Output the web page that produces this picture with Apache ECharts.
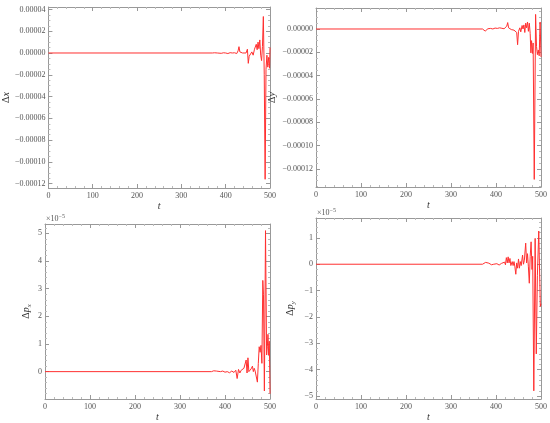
<!DOCTYPE html>
<html>
<head>
<meta charset="utf-8">
<script src="https://cdn.jsdelivr.net/npm/echarts@6/dist/echarts.min.js"></script>
<style>
  html, body { margin: 0; padding: 0; background: #fff; }
  #chart { width: 550px; height: 423px; }
</style>
</head>
<body>
<div id="chart"></div>
<script>
// values of the y series are in units of 1e-5
const dxT = [0, 370, 375, 378, 381, 385, 390, 395, 400, 405, 410, 415, 420, 425, 428, 430, 432, 435, 438, 442, 446, 449, 451, 453, 456, 459, 462, 465, 467, 469, 471, 473, 475, 477, 479, 481, 483, 485, 487, 489, 491, 493, 495, 497, 499, 500];
const dxV = [0, 0, 0.02, 0.12, 0.0, 0.03, -0.03, 0.02, 0.0, -0.05, 0.03, 0.0, 0.02, -0.05, 0.2, 0.58, 0.1, 0.05, 0.0, 0.08, 0.0, 0.35, -0.95, -0.3, -0.4, 0.1, -0.2, 0.35, 0.2, 0.8, 0.3, 1.0, 0.4, 1.2, -0.2, -0.7, 0.6, 3.35, -2, -11.6, -1.5, -0.2, -1.3, -0.4, -1.4, 0.5];

const dyT = [0, 370, 374, 376, 378, 382, 388, 393, 398, 403, 408, 413, 418, 421, 424, 426, 428, 431, 434, 437, 440, 443, 446, 448, 450, 453, 455, 458, 460, 462, 464, 466, 468, 470, 472, 474, 476, 477.5, 479, 481, 482.5, 485, 488, 490, 492, 494, 496, 498, 500];
const dyV = [0, 0, -0.05, -0.18, -0.05, 0.02, 0.05, 0.0, 0.08, 0.05, 0.1, 0.06, 0.02, 0.1, 0.25, 0.55, 0.1, 0.15, -0.05, 0.05, -0.1, 0.0, -0.3, -1.35, -0.2, 0.1, -0.25, 0.3, 0.0, 0.35, -0.3, 0.5, 0.1, 0.6, -0.2, 0.5, -0.4, -2.05, -1.0, -2.1, -1.2, -12.9, 1.25, -1.5, -2.2, -1.8, -2.3, 0.6, -2.4];

const dpxT = [0, 370, 375, 378, 381, 385, 390, 395, 400, 405, 410, 415, 420, 424, 427, 430, 433, 436, 439, 442, 445, 447, 449, 451, 453, 455, 458, 461, 463, 465, 467, 469, 472, 474, 476, 478, 480, 482, 484, 485.5, 487.5, 490, 492.5, 494, 495.5, 497, 498.5, 500];
const dpxV = [0, 0, 0.03, 0.06, 0.02, 0.04, 0.0, 0.02, -0.02, 0.0, -0.04, 0.02, -0.03, 0.05, -0.25, 0.08, -0.05, 0.05, 0.0, 0.12, 0.05, 0.42, -0.05, 0.5, 0.0, 0.05, 0.1, 0.2, 0.0, 0.12, 0.02, 0.05, -0.38, 0.3, 0.9, 0.7, 0.95, 0.3, 3.3, 2.8, -0.7, 5.1, 0.6, 0.9, 1.35, 0.6, 1.1, -0.8];

const dpyT = [0, 370, 374, 377, 380, 384, 390, 395, 398, 402, 407, 412, 416, 419, 421, 423, 425, 427, 429, 431, 433, 436, 438, 440, 442, 444, 446, 448, 450, 452, 454, 456, 459, 461, 463, 466, 468, 470, 472, 474, 476, 478, 480, 481.5, 484, 487, 489.5, 492, 495, 498.5, 500];
const dpyV = [0, 0, 0.03, 0.07, 0.0, 0.04, -0.02, 0.0, -0.04, 0.02, -0.03, 0.03, 0.0, 0.08, -0.02, 0.25, 0.05, 0.28, 0.05, 0.22, -0.05, 0.1, -0.05, 0.1, -0.1, -0.38, 0.05, -0.15, 0.2, -0.15, 0.1, -0.05, 0.35, 0.0, 0.15, 0.8, 0.05, 0.4, -0.1, -0.72, 0.3, 0.85, -0.2, 0.3, -4.8, 0.98, -3.4, -0.42, 1.26, -1.6, -1.5];

const xTicks = [0, 100, 200, 300, 400, 500];

const FONT = "Liberation Serif";
const GRAY = "#555";
const FRAME = "#999";

function minus(s) {
  return String(s).replace("-", "\u2212");
}
function isStep(v, step) {
  return Math.abs(v / step - Math.round(v / step)) < 1e-6;
}
// top row labels: 0.00004 style
function fmtSmall(v) {
  if (!isStep(v, 2)) return "";
  const r = Math.round(v);
  return minus((r * 1e-5).toFixed(5));
}
// bottom row labels: integers (x 10^-5)
function fmtInt(v) {
  if (!isStep(v, 1)) return "";
  const r = Math.round(v);
  return r === 0 ? "0" : minus(r);
}

function zip(t, v) {
  return t.map((x, i) => [x, v[i]]);
}

const nameRich = {
  a: { fontFamily: FONT, fontSize: 10, color: "#333" },
  i: { fontFamily: FONT, fontSize: 10, fontStyle: "italic", color: "#333" },
  s: { fontFamily: FONT, fontSize: 7, fontStyle: "italic", color: "#333", padding: [6, 0, 0, 0] },
};

// panels: grid box + y range
const panels = [
  { left: 45, top: 7, bottom: 423 - 188, right: 280, min: -12.4, max: 4.225, step: 2, minor: 4, fmt: fmtSmall, name: "{a|Δ}{i|x}", gap: 35, t: dxT, v: dxV, exp: false },
  { left: 316, top: 8, bottom: 423 - 187, right: 9, min: -13.55, max: 1.8, step: 2, minor: 4, fmt: fmtSmall, name: "{a|Δ}{i|y}", gap: 39, t: dyT, v: dyV, exp: false },
  { left: 45, top: 224, bottom: 423 - 403, right: 280, min: -0.99, max: 5.34, step: 1, minor: 5, fmt: fmtInt, name: "{a|Δ}{i|p}{s|x}", gap: 12, t: dpxT, v: dpxV, exp: true },
  { left: 316, top: 218, bottom: 423 - 402, right: 9, min: -5.11, max: 1.753, step: 1, minor: 5, fmt: fmtInt, name: "{a|Δ}{i|p}{s|y}", gap: 19, t: dpyT, v: dpyV, exp: true },
];

const grid = [];
const xAxis = [];
const yAxis = [];
const series = [];

panels.forEach((p, k) => {
  grid.push({ left: p.left, top: p.top, right: p.right, bottom: p.bottom, containLabel: false });
  const base = {
    gridIndex: k,
    axisLine: { show: true, onZero: false, lineStyle: { color: FRAME, width: 1 } },
    axisTick: { show: true, inside: true, length: 4, lineStyle: { color: FRAME } },
    minorTick: { show: true, length: 2, lineStyle: { color: "#bbb" } },
    splitLine: { show: false },
  };
  // bottom x axis
  xAxis.push({
    ...base,
    type: "value",
    position: "bottom",
    min: xTicks[0],
    max: xTicks[xTicks.length - 1],
    interval: xTicks[1] - xTicks[0],
    minorTick: { show: true, splitNumber: 5, length: 2, lineStyle: { color: "#bbb" } },
    axisLabel: { fontFamily: FONT, fontSize: 8, color: GRAY, margin: 4 },
    name: "t",
    nameLocation: "middle",
    nameGap: 13,
    nameTextStyle: { fontFamily: FONT, fontSize: 10, fontStyle: "italic", color: "#333" },
  });
  // top x axis (frame)
  xAxis.push({
    ...base,
    type: "value",
    position: "top",
    min: xTicks[0],
    max: xTicks[xTicks.length - 1],
    interval: xTicks[1] - xTicks[0],
    minorTick: { show: true, splitNumber: 5, length: 2, lineStyle: { color: "#bbb" } },
    axisLabel: { show: false },
    name: p.exp ? "{a|×10}{s|−5}" : "",
    nameLocation: "start",
    nameGap: -1,
    nameTextStyle: {
      align: "left",
      verticalAlign: "bottom",
      rich: {
        a: { fontFamily: FONT, fontSize: 8, color: GRAY },
        s: { fontFamily: FONT, fontSize: 6, color: GRAY, padding: [0, 0, 5, 0] },
      },
    },
  });
  const yBase = {
    ...base,
    type: "value",
    min: p.min,
    max: p.max,
    splitNumber: 8,
    minInterval: p.step,
    maxInterval: p.step,
    minorTick: { show: true, splitNumber: p.minor, length: 2, lineStyle: { color: "#bbb" } },
  };
  yAxis.push({
    ...yBase,
    position: "left",
    axisLabel: { fontFamily: FONT, fontSize: 8, color: GRAY, margin: 3, formatter: p.fmt },
    name: p.name,
    nameLocation: "middle",
    nameGap: p.gap,
    nameRotate: 90,
    nameTextStyle: { rich: nameRich },
  });
  yAxis.push({
    ...yBase,
    position: "right",
    axisLabel: { show: false },
  });
  series.push({
    type: "line",
    xAxisIndex: 2 * k,
    yAxisIndex: 2 * k,
    data: zip(p.t, p.v),
    showSymbol: false,
    symbol: "none",
    z: 10,
    lineStyle: { color: "#ff3030", width: 1 },
    animation: false,
  });
});

const chart = echarts.init(document.getElementById("chart"), null, { renderer: "canvas" });
chart.setOption({
  animation: false,
  backgroundColor: "#fff",
  grid: grid,
  xAxis: xAxis,
  yAxis: yAxis,
  series: series,
});
</script>
</body>
</html>
